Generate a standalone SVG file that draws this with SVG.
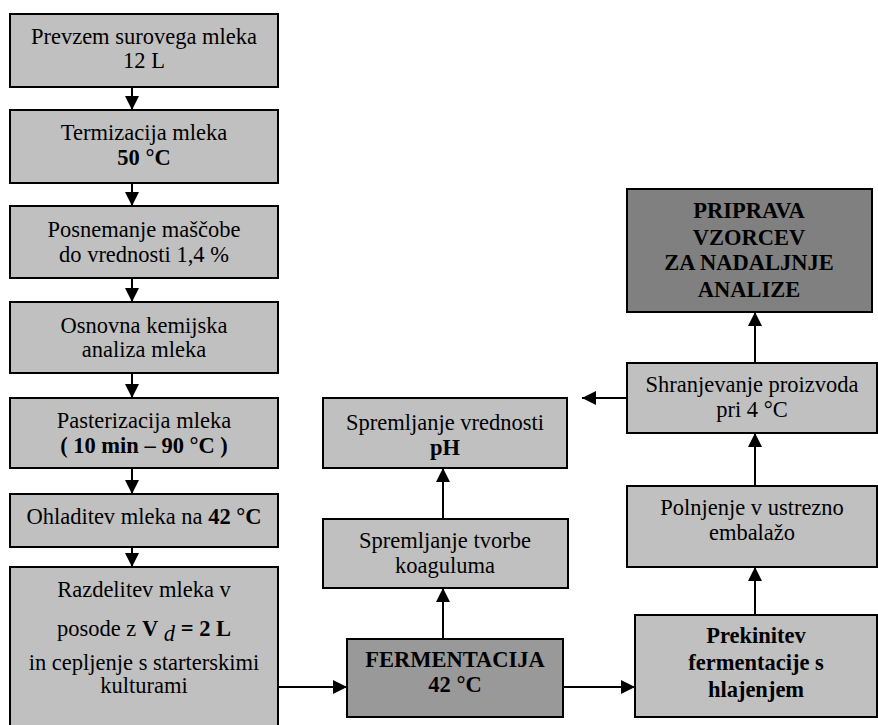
<svg xmlns="http://www.w3.org/2000/svg" width="878" height="725" viewBox="0 0 878 725">
<style>
.box{fill:#c0c0c0;stroke:#000;stroke-width:2}
.mid{fill:#999999;stroke:#000;stroke-width:2}
.dark{fill:#808080;stroke:#000;stroke-width:2}
text{font-size:22.5px;fill:#000;text-anchor:middle}
.b{font-weight:bold}
.con{stroke:#000;stroke-width:2;fill:none;marker-end:url(#ah)}
</style>
<defs>
<marker id="ah" markerUnits="userSpaceOnUse" markerWidth="14" markerHeight="14" refX="14" refY="7" orient="auto">
<path d="M0,0 L14,7 L0,14 Z" fill="#000"/>
</marker>
</defs>
<rect width="878" height="725" fill="#fff"/>
<g font-family="'Liberation Serif', 'DejaVu Serif', serif">
<g id="n1"><rect class="box" x="10" y="14" width="268" height="73"/><text x="144" y="44">Prevzem surovega mleka</text><text x="144" y="68">12 L</text></g>
<g id="n2"><rect class="box" x="10" y="110" width="268" height="73"/><text x="144" y="140">Termizacija mleka</text><text x="144" y="165" class="b">50 °C</text></g>
<g id="n3"><rect class="box" x="10" y="206" width="268" height="72"/><text x="144" y="237">Posnemanje maščobe</text><text x="144" y="262">do vrednosti 1,4 %</text></g>
<g id="n4"><rect class="box" x="10" y="302" width="268" height="71"/><text x="144" y="333">Osnovna kemijska</text><text x="144" y="357">analiza mleka</text></g>
<g id="n5"><rect class="box" x="10" y="398" width="268" height="70"/><text x="144" y="428">Pasterizacija mleka</text><text x="144" y="453" class="b">( 10 min – 90 °C )</text></g>
<g id="n6"><rect class="box" x="10" y="494" width="268" height="53"/><text x="144" y="524">Ohladitev mleka na <tspan class="b">42 °C</tspan></text></g>
<g id="n7"><rect class="box" x="10" y="567" width="268" height="160"/><text x="144" y="636">posode z <tspan class="b">V</tspan> <tspan font-style="italic" dy="5">d</tspan><tspan class="b" dy="-5"> = 2 L</tspan></text><text x="144" y="597">Razdelitev mleka v</text><text x="144" y="670">in cepljenje s starterskimi</text><text x="144" y="693">kulturami</text></g>
<g id="n8"><rect class="mid" x="347" y="639" width="216" height="78"/><text x="455" y="667" class="b">FERMENTACIJA</text><text x="455" y="692" class="b">42 °C</text></g>
<g id="n9"><rect class="box" x="323" y="519" width="245" height="69"/><text x="445" y="548">Spremljanje tvorbe</text><text x="445" y="573">koaguluma</text></g>
<g id="n10"><rect class="box" x="323" y="398" width="244" height="70"/><text x="445" y="430">Spremljanje vrednosti</text><text x="445" y="455" class="b">pH</text></g>
<g id="n11"><rect class="box" x="635" y="615" width="242" height="102"/><text x="756" y="643" class="b">Prekinitev</text><text x="756" y="670" class="b">fermentacije s</text><text x="756" y="697" class="b">hlajenjem</text></g>
<g id="n12"><rect class="box" x="627" y="486" width="250" height="81"/><text x="752" y="515">Polnjenje v ustrezno</text><text x="752" y="540">embalažo</text></g>
<g id="n13"><rect class="box" x="627" y="363" width="250" height="70"/><text x="752" y="392">Shranjevanje proizvoda</text><text x="752" y="417">pri 4 °C</text></g>
<g id="n14"><rect class="dark" x="627" y="189" width="245" height="123"/><text x="749" y="218" class="b">PRIPRAVA</text><text x="749" y="245" class="b">VZORCEV</text><text x="749" y="270" class="b">ZA NADALJNJE</text><text x="749" y="297" class="b">ANALIZE</text></g>
</g>
<g id="connectors">
<line class="con" x1="132" y1="87" x2="132" y2="110"/>
<line class="con" x1="132" y1="183" x2="132" y2="206"/>
<line class="con" x1="132" y1="278" x2="132" y2="302"/>
<line class="con" x1="132" y1="373" x2="132" y2="398"/>
<line class="con" x1="132" y1="468" x2="132" y2="494"/>
<line class="con" x1="132" y1="547" x2="132" y2="567"/>
<line class="con" x1="278" y1="687" x2="347" y2="687"/>
<line class="con" x1="443" y1="639" x2="443" y2="588"/>
<line class="con" x1="443" y1="519" x2="443" y2="468"/>
<line class="con" x1="563" y1="687" x2="635" y2="687"/>
<line class="con" x1="755" y1="615" x2="755" y2="567"/>
<line class="con" x1="755" y1="486" x2="755" y2="433"/>
<line class="con" x1="755" y1="363" x2="755" y2="312"/>
<line class="con" x1="627" y1="398" x2="582" y2="398"/>
</g>
</svg>
